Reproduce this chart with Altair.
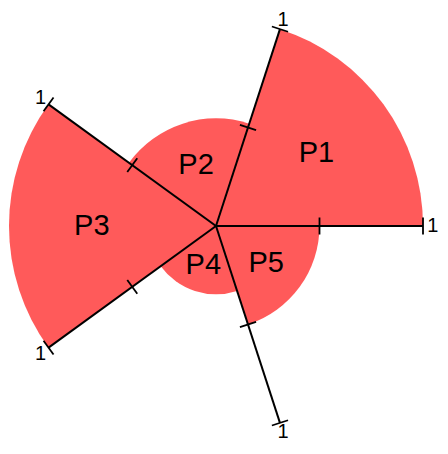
import math
import altair as alt
import pandas as pd

# ---- data ----
categories = ["P1", "P2", "P3", "P4", "P5"]
values = [1.0, 0.52, 1.0, 0.33, 0.5]
slots = [0, 4, 3, 2, 1]          # clockwise position of each sector
n_axes = 5
tick_values = [0.5, 1.0]
tick_texts = ["", "1"]
start_deg = 18                   # clock angle of the first axis

R = 207
W = 2 * R
FILL = "#ff5a5a"
FONT = "Arial"


def clock(k):
    return math.radians(start_deg + k * 360 / n_axes)


sectors = pd.DataFrame({"cat": categories, "value": values, "slot": slots})
sectors["end"] = sectors["slot"] + 1
sectors["lx"] = [0.6 * v * math.sin(clock(s + 0.5)) for v, s in zip(values, slots)]
sectors["ly"] = [0.6 * v * math.cos(clock(s + 0.5)) for v, s in zip(values, slots)]

axes = pd.DataFrame({"k": list(range(n_axes))})
axes["x"] = [math.sin(clock(k)) for k in axes.k]
axes["y"] = [math.cos(clock(k)) for k in axes.k]
axes["x0"] = 0.0
axes["y0"] = 0.0

tick_rows = []
for k in range(n_axes):
    for t, txt in zip(tick_values, tick_texts):
        tick_rows.append({
            "x": t * math.sin(clock(k)),
            "y": t * math.cos(clock(k)),
            "deg": start_deg + k * 360 / n_axes,
            "tx": (t + 0.048) * math.sin(clock(k)),
            "ty": (t + 0.048) * math.cos(clock(k)),
            "text": txt,
        })
ticks = pd.DataFrame(tick_rows)

xs = alt.Scale(domain=[-1, 1], nice=False, zero=False)
ys = alt.Scale(domain=[-1, 1], nice=False, zero=False)

arcs = alt.Chart(sectors).mark_arc(color=FILL, stroke=None).encode(
    theta=alt.Theta("slot:Q", scale=alt.Scale(domain=[0, n_axes],
                                              range=[math.radians(start_deg),
                                                     math.radians(start_deg) + 2 * math.pi])),
    theta2="end:Q",
    radius=alt.Radius("value:Q", scale=alt.Scale(type="linear", domain=[0, 1], range=[0, R], zero=True)),
)

lines = alt.Chart(axes).mark_rule(color="black", strokeWidth=2).encode(
    x=alt.X("x0:Q", scale=xs, axis=None),
    y=alt.Y("y0:Q", scale=ys, axis=None),
    x2="x:Q",
    y2="y:Q",
)

tick_marks = alt.Chart(ticks).mark_point(
    shape="M-1,0L1,0", filled=False, color="black", strokeWidth=1.8, size=289, opacity=1
).encode(
    x=alt.X("x:Q", scale=xs, axis=None),
    y=alt.Y("y:Q", scale=ys, axis=None),
    angle=alt.Angle("deg:Q", scale=None),
)

tick_lbls = alt.Chart(ticks).mark_text(
    font=FONT, fontSize=20, color="black", align="center", baseline="middle"
).encode(
    x=alt.X("tx:Q", scale=xs, axis=None),
    y=alt.Y("ty:Q", scale=ys, axis=None),
    text="text:N",
)

cat_lbls = alt.Chart(sectors).mark_text(
    font=FONT, fontSize=29, color="black", align="center", baseline="middle"
).encode(
    x=alt.X("lx:Q", scale=xs, axis=None),
    y=alt.Y("ly:Q", scale=ys, axis=None),
    text="cat:N",
)

chart = alt.layer(arcs, lines, tick_marks, tick_lbls, cat_lbls).properties(
    width=W,
    height=W,
    padding={"left": 1, "top": 11, "right": 17, "bottom": 11},
    autosize=alt.AutoSizeParams(type="none"),
).configure_view(stroke=None)

chart.save("out.html", embed_options={"renderer": "svg", "actions": False})
